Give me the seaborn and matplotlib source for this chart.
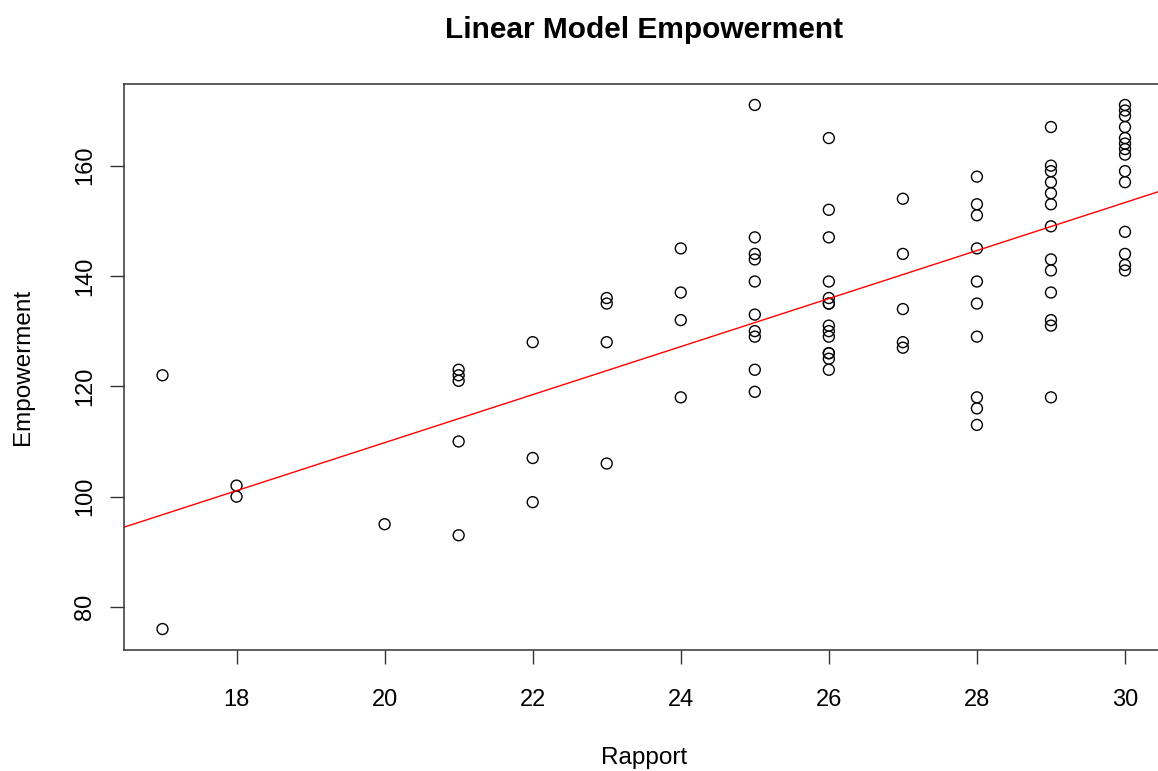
import numpy as np
import pandas as pd
import matplotlib
matplotlib.use("Agg")
import matplotlib.pyplot as plt
import seaborn as sns

# Rapport score (x) and Empowerment score (y) for each respondent
rapport = (
    [17] * 2 + [18] * 2 + [20] * 1 + [21] * 5 + [22] * 3 + [23] * 4 + [24] * 4
    + [25] * 10 + [26] * 14 + [27] * 5 + [28] * 10 + [29] * 13 + [30] * 14
)
empowerment = [
    122, 76,
    102, 100,
    95,
    123, 122, 121, 110, 93,
    128, 107, 99,
    136, 135, 128, 106,
    145, 137, 132, 118,
    171, 147, 144, 143, 139, 133, 130, 129, 123, 119,
    165, 152, 147, 139, 136, 135, 135, 131, 130, 129, 126, 126, 125, 123,
    154, 144, 134, 128, 127,
    158, 153, 151, 145, 139, 135, 129, 118, 116, 113,
    167, 160, 159, 157, 155, 153, 149, 143, 141, 137, 132, 131, 118,
    171, 170, 169, 167, 165, 164, 163, 162, 159, 157, 148, 144, 142, 141,
]
x_ticks = [18, 20, 22, 24, 26, 28, 30]
y_ticks = [80, 100, 120, 140, 160]

df = pd.DataFrame({"Rapport": rapport, "Empowerment": empowerment})

sns.set_style("ticks")
plt.rcParams["font.family"] = ["Liberation Sans", "DejaVu Sans"]
plt.rcParams["text.color"] = "black"
plt.rcParams["axes.labelcolor"] = "black"
plt.rcParams["xtick.color"] = "black"
plt.rcParams["ytick.color"] = "black"

fig = plt.figure(figsize=(11.58, 7.71), dpi=100)
ax = fig.add_axes([124 / 1158, 1 - 650 / 771, (1163.5 - 124) / 1158, (650 - 84) / 771])

# R-style 4% padding around the data range
xr = df["Rapport"].max() - df["Rapport"].min()
yr = df["Empowerment"].max() - df["Empowerment"].min()
ax.set_xlim(df["Rapport"].min() - 0.04 * xr, df["Rapport"].max() + 0.04 * xr)
ax.set_ylim(df["Empowerment"].min() - 0.04 * yr, df["Empowerment"].max() + 0.04 * yr)

sns.regplot(
    data=df, x="Rapport", y="Empowerment", ax=ax, ci=None, truncate=False,
    marker="o",
    scatter_kws=dict(s=62, facecolors="none", edgecolors="black", linewidths=1.0, alpha=1),
    line_kws=dict(color="red", linewidth=1.0),
)

ax.set_xticks(x_ticks)
ax.set_yticks(y_ticks)
ax.tick_params(axis="both", direction="out", length=10, width=1.0, color="#333333",
               labelsize=17, labelcolor="black")
ax.tick_params(axis="x", pad=18)
ax.tick_params(axis="y", pad=10)
for lab in ax.get_yticklabels():
    lab.set_rotation(90)
    lab.set_va("center")
for side in ax.spines.values():
    side.set_visible(True)
    side.set_color("#333333")
    side.set_linewidth(1.1)

ax.set_xlabel("Rapport", fontsize=17.5, labelpad=26)
ax.set_ylabel("Empowerment", fontsize=17.5, labelpad=29)
ax.set_title("Linear Model Empowerment", fontsize=21.5, fontweight="bold", pad=33)

fig.savefig("out.png", dpi=100)
